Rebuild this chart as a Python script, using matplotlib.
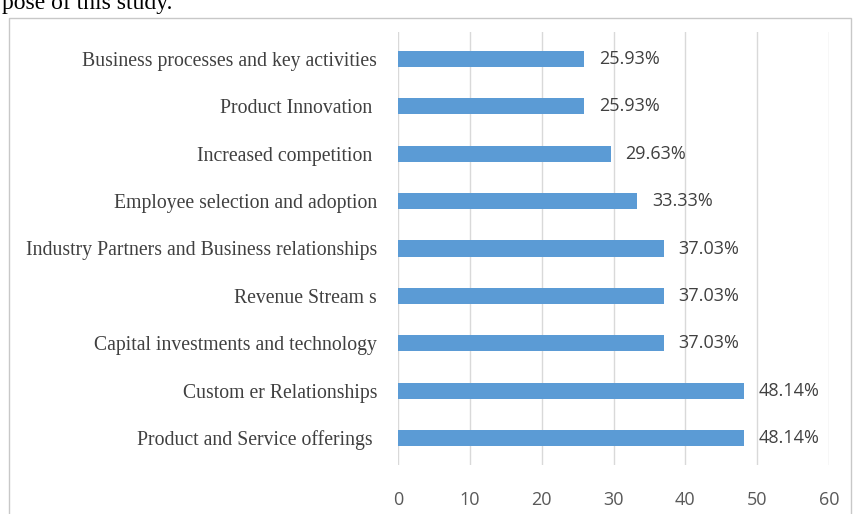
import matplotlib.pyplot as plt
from matplotlib.patches import Rectangle

# categories listed bottom to top
categories = ["Product and Service offerings ", "Custom er Relationships", "Capital investments and technology",
              "Revenue Stream s", "Industry Partners and Business relationships", "Employee selection and adoption",
              "Increased competition ", "Product Innovation ", "Business processes and key activities"]
values = [48.14, 48.14, 37.03, 37.03, 37.03, 33.33, 29.63, 25.93, 25.93]
labels = ["48.14%", "48.14%", "37.03%", "37.03%", "37.03%", "33.33%", "29.63%", "25.93%", "25.93%"]
xticks = [0, 10, 20, 30, 40, 50, 60]

W, H = 854, 514
fig = plt.figure(figsize=(W / 100, H / 100), dpi=100)
ax = fig.add_axes([398 / W, 1 - 465 / H, (829 - 398) / W, (465 - 32) / H])

# page frame and cut-off sentence above the chart
fig.patches.append(Rectangle((9 / W, -0.1), (851 - 9) / W, 1.1 - 18 / H, transform=fig.transFigure,
                             fill=False, edgecolor="#c8c8c8", linewidth=1))
fig.text(2 / W, 1 - 9 / H, "pose of this study.", family="Liberation Serif", fontsize=17,
         va="baseline", ha="left")

ypos = list(range(len(categories)))
ax.barh(ypos, values, height=0.34, color="#5B9BD5", zorder=3)
for y, v, t in zip(ypos, values, labels):
    ax.text(v + 2.0, y, t, va="center", ha="left", fontsize=13, color="#404040", family="Open Sans")

ax.set_xlim(0, 60)
ax.set_ylim(-0.57, len(categories) - 0.43)
ax.set_xticks(xticks)
ax.set_yticks(ypos)
ax.set_yticklabels(categories, family="Liberation Serif", fontsize=14.2, color="#404040")
ax.tick_params(axis="x", labelsize=13, labelcolor="#595959", length=0, pad=19)
ax.tick_params(axis="y", length=0, pad=15)
for lab in ax.get_xticklabels():
    lab.set_family("Open Sans")
ax.grid(axis="x", color="#d9d9d9", linewidth=1, zorder=0)
for s in ax.spines.values():
    s.set_visible(False)

fig.savefig("out.png", dpi=100)
